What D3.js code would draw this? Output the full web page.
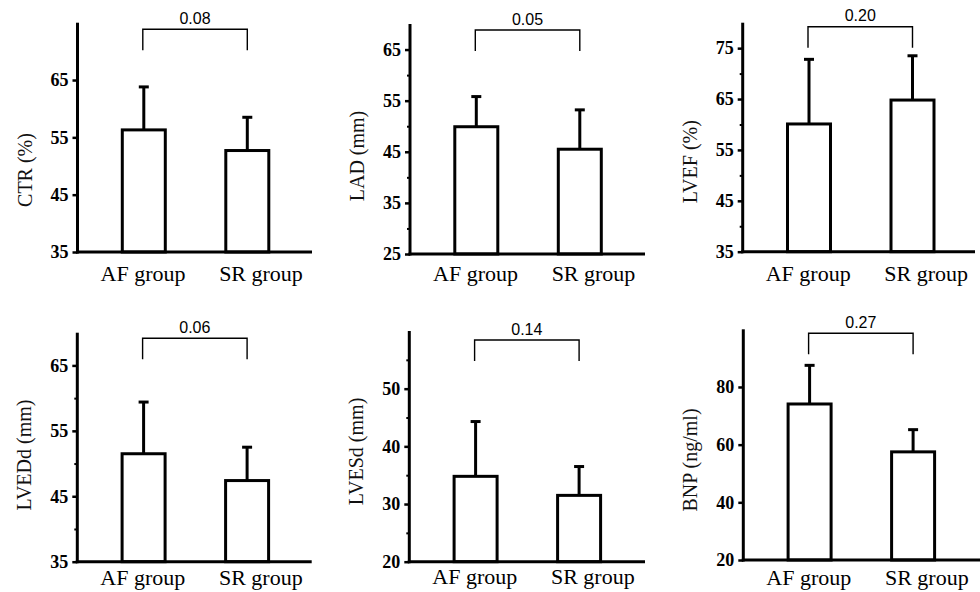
<!DOCTYPE html>
<html>
<head>
<meta charset="utf-8">
<script src="https://cdn.jsdelivr.net/npm/d3@7/dist/d3.min.js"></script>
<style>
  html, body { margin: 0; padding: 0; background: #fff; }
  svg { display: block; }
</style>
</head>
<body>
<svg id="chart" width="980" height="592"></svg>
<script>
// ---------------- data ----------------
const groups = ["AF group", "SR group"];
const measureLabels = ["CTR (%)", "LAD (mm)", "LVEF (%)", "LVEDd (mm)", "LVESd (mm)", "BNP (ng/ml)"];
const meanAF = [56.3, 49.9, 60.1, 51.5, 34.8, 74.1];
const meanSR = [52.7, 45.5, 64.8, 47.4, 31.5, 57.5];
const upperAF = [63.8, 55.8, 72.8, 59.4, 44.3, 87.5];   // mean + SD
const upperSR = [58.5, 53.2, 73.5, 52.5, 36.5, 65.2];   // mean + SD
const pValues = ["0.08", "0.05", "0.20", "0.06", "0.14", "0.27"];
const yMin = [35, 25, 35, 35, 20, 20];
const yMax = [75, 70, 80, 70, 60, 100];
const majorTicks = [
  [35, 45, 55, 65],
  [25, 35, 45, 55, 65],
  [35, 45, 55, 65, 75],
  [35, 45, 55, 65],
  [20, 30, 40, 50],
  [20, 40, 60, 80]
];
const minorTicks = [
  [],
  [30, 40, 50, 60],
  [40, 50, 60, 70],
  [40, 50, 60],
  [25, 35, 45, 55],
  []
];

// ---------------- layout ----------------
const layout = [
  {ax: 77.5, top: 22.7, bottom: 252,   right: 312,   labCy: 170,   xlabOff: 28.5, brOff: 6.6},
  {ax: 410,  top: 24,   bottom: 254,   right: 645,   labCy: 156,   xlabOff: 27,   brOff: 6},
  {ax: 742.7,top: 22.7, bottom: 251.7, right: 975,   labCy: 161.7, xlabOff: 29,   brOff: 4},
  {ax: 77.3, top: 332.7,bottom: 561.7, right: 311.7, labCy: 455,   xlabOff: 23.5, brOff: 5.6},
  {ax: 409.3,top: 331,  bottom: 561.7, right: 645,   labCy: 451.5, xlabOff: 22,   brOff: 9},
  {ax: 743.3,top: 329.3,bottom: 560,   right: 980,   labCy: 460,   xlabOff: 25,   brOff: 4}
];

const svg = d3.select("#chart");
const serif = '"Liberation Serif", "Times New Roman", serif';
const sans = '"Liberation Sans", Arial, sans-serif';
const barW = 43;
const capW = 10;

measureLabels.forEach((label, i) => {
  const L = layout[i];
  const g = svg.append("g");

  const y = d3.scaleLinear().domain([yMin[i], yMax[i]]).range([L.bottom, L.top]);
  const xBar = d3.scalePoint().domain(groups).range([L.ax + 66.3, L.ax + 169.8]);
  const xLab = d3.scalePoint().domain(groups).range([L.ax + 65, L.ax + 183]);

  const means = [meanAF[i], meanSR[i]];
  const uppers = [upperAF[i], upperSR[i]];

  // error bars
  groups.forEach((grp, k) => {
    const cx = xBar(grp);
    g.append("line")
      .attr("x1", cx).attr("x2", cx)
      .attr("y1", y(means[k])).attr("y2", y(uppers[k]))
      .attr("stroke", "#000").attr("stroke-width", 3);
    g.append("line")
      .attr("x1", cx - capW / 2).attr("x2", cx + capW / 2)
      .attr("y1", y(uppers[k])).attr("y2", y(uppers[k]))
      .attr("stroke", "#000").attr("stroke-width", 3);
  });

  // bars
  g.selectAll("rect.bar")
    .data(groups.map((grp, k) => ({grp, v: means[k]})))
    .join("rect")
    .attr("class", "bar")
    .attr("x", d => xBar(d.grp) - barW / 2)
    .attr("width", barW)
    .attr("y", d => y(d.v))
    .attr("height", d => y(yMin[i]) - y(d.v))
    .attr("fill", "#fff")
    .attr("stroke", "#000")
    .attr("stroke-width", 3);

  // y axis (major)
  const yAxis = g.append("g")
    .attr("transform", `translate(${L.ax},0)`)
    .call(d3.axisLeft(y).tickValues(majorTicks[i]).tickSize(5).tickSizeOuter(0).tickPadding(4));
  yAxis.attr("font-family", null).attr("font-size", null);
  yAxis.select(".domain").attr("stroke-width", 3).attr("d", `M0,${L.top}V${L.bottom + 1.5}`);
  yAxis.selectAll(".tick line").attr("stroke-width", 2.5);
  yAxis.selectAll(".tick text")
    .style("font-family", serif).style("font-weight", "bold").style("font-size", "18px").attr("fill", "#000");

  // y axis (minor)
  if (minorTicks[i].length) {
    const yMinor = g.append("g")
      .attr("transform", `translate(${L.ax},0)`)
      .call(d3.axisLeft(y).tickValues(minorTicks[i]).tickSize(3).tickFormat(""));
    yMinor.select(".domain").remove();
    yMinor.selectAll(".tick line").attr("stroke-width", 2);
  }

  // x axis line
  const xScaleLine = d3.scaleLinear().domain([0, 1]).range([L.ax - 1.5, L.right]);
  g.append("line")
    .attr("x1", xScaleLine(0)).attr("x2", xScaleLine(1))
    .attr("y1", L.bottom).attr("y2", L.bottom)
    .attr("stroke", "#000").attr("stroke-width", 3);

  // x axis labels
  const xAxis = g.append("g")
    .attr("transform", `translate(0,${L.bottom})`)
    .call(d3.axisBottom(xLab).tickSize(0));
  xAxis.attr("font-family", null).attr("font-size", null);
  xAxis.select(".domain").remove();
  xAxis.selectAll(".tick text")
    .attr("y", L.xlabOff).attr("dy", 0)
    .style("font-family", serif).style("font-size", "22px").attr("fill", "#000");

  // y axis title
  g.append("text")
    .attr("transform", `translate(${L.ax - 53},${L.labCy}) rotate(-90)`)
    .attr("text-anchor", "middle")
    .attr("dominant-baseline", "central")
    .style("font-family", serif).style("font-size", "20px").attr("fill", "#111")
    .text(label);

  // significance bracket
  const bx1 = xBar(groups[0]) - 1, bx2 = xBar(groups[1]);
  const by = L.top + L.brOff;
  g.append("path")
    .attr("d", `M${bx1},${by + 21}V${by}H${bx2}V${by + 21}`)
    .attr("fill", "none").attr("stroke", "#000").attr("stroke-width", 1.4);
  g.append("text")
    .attr("x", (bx1 + bx2) / 2).attr("y", by - 5.5)
    .attr("text-anchor", "middle")
    .style("font-family", sans).style("font-size", "16px").attr("fill", "#000")
    .text(pValues[i]);
});
</script>
</body>
</html>
